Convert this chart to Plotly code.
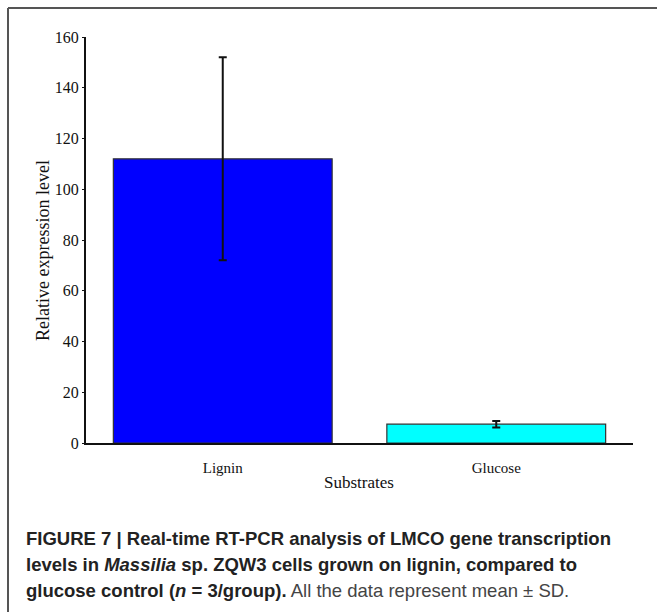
import plotly.graph_objects as go

categories = ["Lignin", "Glucose"]
means = [112, 7.4]
sds = [40, 1.3]
bar_colors = ["#0000FF", "#00FFFF"]
y_ticks = [0, 20, 40, 60, 80, 100, 120, 140, 160]

W, H = 657, 612
L, R, T, B = 86, 24, 37, 169
PW = W - L - R
PH = H - T - B


def px(x):
    return (x - L) / PW


def py(y):
    return (H - B - y) / PH


fig = go.Figure()
fig.add_trace(go.Bar(
    x=categories, y=means, width=0.8,
    marker=dict(color=bar_colors, line=dict(color="#333333", width=1.2)),
    error_y=dict(type="data", array=sds, visible=True, color="#111111",
                 thickness=2, width=4),
))

serif = "Liberation Serif, Times New Roman, serif"
fig.update_layout(
    width=W, height=H,
    margin=dict(l=L, r=R, t=T, b=B),
    paper_bgcolor="white", plot_bgcolor="white",
    showlegend=False, bargap=0.2,
    font=dict(family=serif, color="#111111"),
)
fig.update_xaxes(
    range=[-0.5, 1.5], showline=True, linecolor="#111111", linewidth=2,
    showgrid=False, ticks="", tickfont=dict(family=serif, size=15, color="#111111"),
    ticklabelstandoff=10, zeroline=False,
)
fig.update_yaxes(
    range=[0, 160], tickvals=y_ticks, showline=True, linecolor="#111111",
    linewidth=2, showgrid=False, ticks="outside", ticklen=2, tickwidth=1,
    tickcolor="#111111", tickfont=dict(family=serif, size=16, color="#111111"),
    zeroline=False, ticklabelstandoff=0,
)

annotations = [
    dict(text="Substrates", x=px(359), y=py(482), xref="paper", yref="paper",
         showarrow=False, xanchor="center", yanchor="middle",
         font=dict(family=serif, size=17, color="#111111")),
    dict(text="Relative expression level", x=px(43), y=py(251), xref="paper",
         yref="paper", showarrow=False, xanchor="center", yanchor="middle",
         textangle=-90, font=dict(family=serif, size=18, color="#111111")),
]

sans = "Liberation Sans, Arial, sans-serif"
cap_lines = [
    "<b>FIGURE 7 | Real-time RT-PCR analysis of LMCO gene transcription</b>",
    "<b>levels in <i>Massilia</i> sp. ZQW3 cells grown on lignin, compared to</b>",
    "<b>glucose control (<i>n</i> = 3/group).</b> <span style='color:#444444'>All the data represent mean ± SD.</span>",
]
cap_y = [538, 564, 590]
for line, yy in zip(cap_lines, cap_y):
    annotations.append(dict(
        text=line, x=px(24), y=py(yy), xref="paper", yref="paper",
        showarrow=False, xanchor="left", yanchor="middle", align="left",
        font=dict(family=sans, size=18.5, color="#222222"),
    ))
fig.update_layout(annotations=annotations)

fig.add_shape(type="line", xref="paper", yref="paper",
              x0=px(8), x1=px(W + 5), y0=py(8), y1=py(8),
              line=dict(color="#555555", width=2))
fig.add_shape(type="line", xref="paper", yref="paper",
              x0=px(8), x1=px(8), y0=py(8), y1=py(H + 5),
              line=dict(color="#555555", width=2))

fig.write_html("out.html")
